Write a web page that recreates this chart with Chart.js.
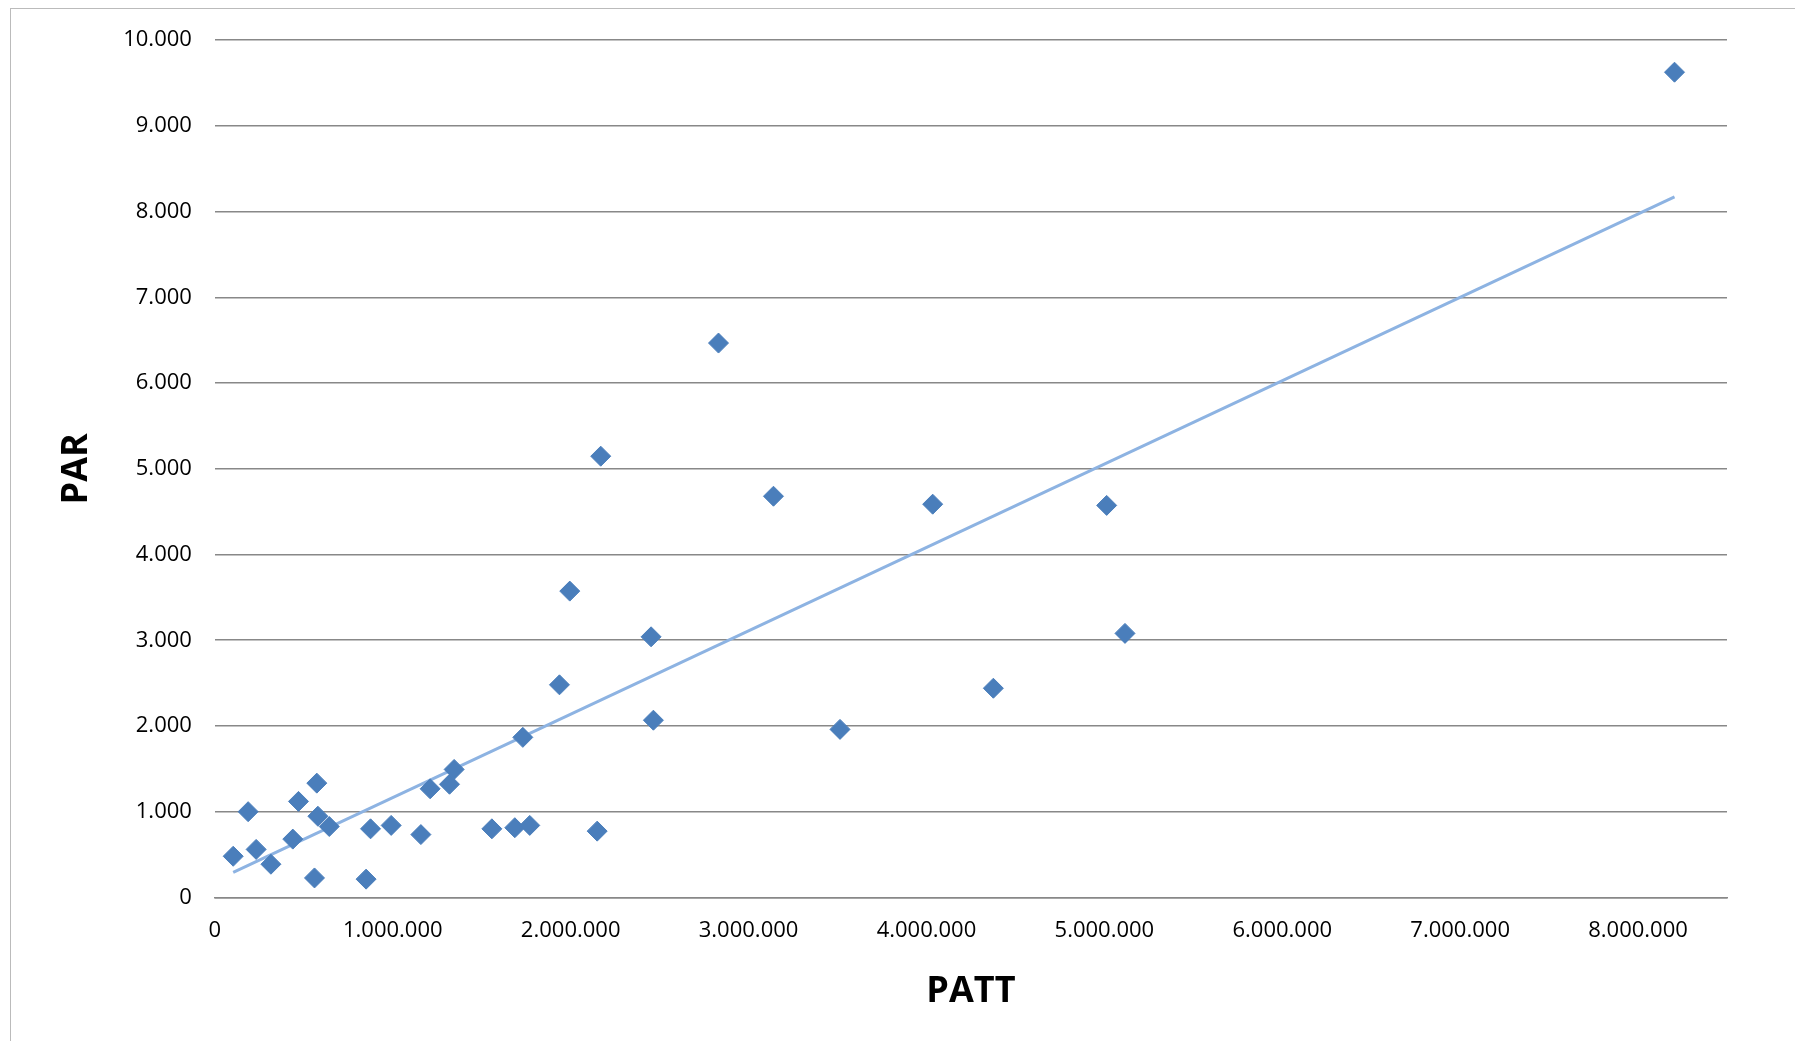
<!DOCTYPE html>
<html><head><meta charset="utf-8">
<script src="https://cdn.jsdelivr.net/npm/chart.js@4"></script>
<style>
html,body{margin:0;background:#fff;}
#wrap{position:absolute;left:10px;top:8px;width:1785px;height:1033px;border-left:1px solid #bbb;border-top:1px solid #bbb;box-sizing:border-box;overflow:hidden;}
#inner{position:absolute;left:0;top:-5px;width:1784px;height:1037px;}
</style></head><body>
<div id="wrap"><div id="inner"><canvas id="c"></canvas></div></div>
<script>
// scatter values
const patt = [103000,187000,232000,315000,438000,470000,560000,573000,579000,643000,
  850000,875000,991000,1158000,1210000,1319000,1345000,1557000,1686000,1731000,
  1770000,1937000,1995000,2149000,2169000,2452000,2465000,2831000,3140000,3514000,
  4035000,4376000,5013000,5116000,8205000];
const par = [480,1000,560,387,680,1120,227,1333,947,827,
  213,800,840,733,1267,1320,1493,800,813,1867,
  840,2480,3573,773,5147,3040,2067,6467,4680,1960,
  4587,2440,4573,3080,9627];
// trendline end points
const trendX = [103000, 8205000];
const trendY = [293, 8173];
const xTicks = [0,1000000,2000000,3000000,4000000,5000000,6000000,7000000,8000000];

const fmt = v => v === 0 ? '0' : Math.round(v).toString().replace(/\B(?=(\d{3})+(?!\d))/g, '.');
const font = { family: 'Open Sans', size: 22 };

new Chart(document.getElementById('c').getContext('2d'), {
  type: 'scatter',
  data: {
    datasets: [
      {
        data: patt.map((x, i) => ({ x, y: par[i] })),
        pointStyle: 'rectRot',
        pointRadius: 10,
        backgroundColor: '#4a7ebb',
        borderColor: '#4a7ebb',
        borderWidth: 1
      },
      {
        type: 'line',
        data: trendX.map((x, i) => ({ x, y: trendY[i] })),
        borderColor: '#8db3e2',
        borderWidth: 3,
        pointRadius: 0,
        fill: false
      }
    ]
  },
  options: {
    responsive: true,
    maintainAspectRatio: false,
    animation: false,
    layout: { padding: { left: 40, right: 68, top: 4, bottom: 24 } },
    plugins: { legend: { display: false }, tooltip: { enabled: false } },
    scales: {
      x: {
        type: 'linear', min: 0, max: 8500000,
        grid: { display: false, drawTicks: false },
        border: { color: '#888', width: 1.5 },
        afterBuildTicks: s => { s.ticks = xTicks.map(value => ({ value })); },
        ticks: { autoSkip: false, color: '#000', font, padding: 20, maxRotation: 0, callback: v => fmt(v) },
        title: { display: true, text: 'PATT', color: '#000', font: { family: 'Open Sans', size: 36, weight: 'bold' }, padding: { top: 6 } }
      },
      y: {
        min: 0, max: 10000,
        grid: { color: '#888', lineWidth: 1.5, drawTicks: false },
        border: { display: false },
        ticks: { stepSize: 1000, color: '#000', font, padding: 23, callback: v => fmt(v) },
        title: { display: true, text: 'PAR', color: '#000', font: { family: 'Open Sans', size: 36, weight: 'bold' }, padding: { bottom: 2 } }
      }
    }
  }
});
</script>
</body></html>
